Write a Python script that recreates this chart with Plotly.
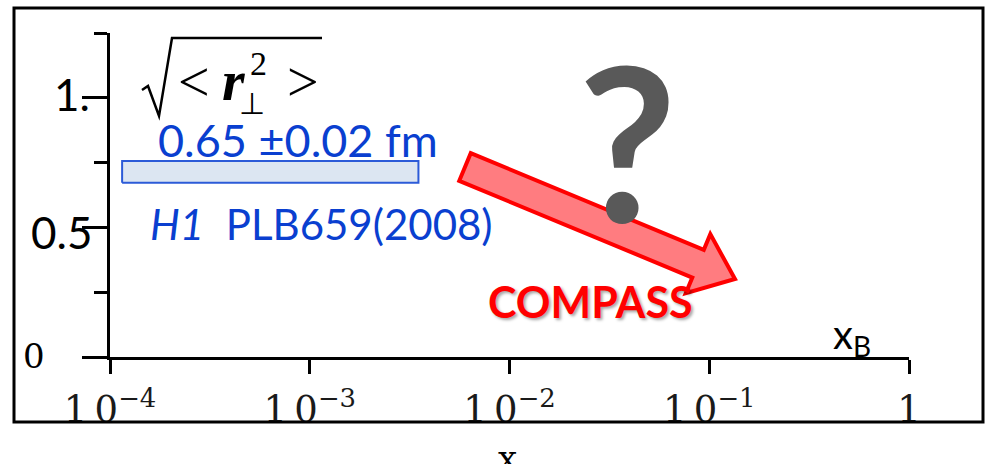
import math
import plotly.graph_objects as go

# ---- data -------------------------------------------------------------
x_tick_vals = [1e-4, 1e-3, 1e-2, 1e-1, 1.0]
x_tick_text = ["1\u20090<sup>\u22124</sup>", "1\u20090<sup>\u22123</sup>",
               "1\u20090<sup>\u22122</sup>", "1\u20090<sup>\u22121</sup>", "1"]
y_label_vals = [0.0, 0.5, 1.0]
y_label_text = ["0", "0.5", "1."]

# H1 measurement band (x extent and band edges on the plotted scale)
band_x = [1.15e-4, 3.5e-3]
band_y = [0.672, 0.756]
band_label = "0.65 \u00b10.02 fm"
ref_label = "<i>H1</i>\u00a0\u00a0PLB659(2008)"

# ---- canvas geometry ----------------------------------------------------
W, H = 989, 464
ML, MR, MT, MB = 110, 80, 33, 107
PW, PH = W - ML - MR, H - MT - MB


def px(x):
    return (x - ML) / PW


def py(y):
    return (H - MB - y) / PH


fig = go.Figure()

fig.add_trace(go.Scatter(
    x=[band_x[0], band_x[1], band_x[1], band_x[0], band_x[0]],
    y=[band_y[0], band_y[0], band_y[1], band_y[1], band_y[0]],
    mode="lines", fill="toself", fillcolor="#dce6f2",
    line=dict(color="#2c5bd8", width=2), hoverinfo="skip", showlegend=False,
))

shapes = []
# outer frame
shapes.append(dict(type="rect", xref="paper", yref="paper",
                   x0=px(14), x1=px(983), y0=py(422), y1=py(8),
                   line=dict(color="black", width=3), fillcolor="rgba(0,0,0,0)"))

# square-root sign with overline
rad = [(142, 90), (148, 86), (159, 116), (172, 38), (322, 38)]
path = "M " + " L ".join(f"{px(a):.5f},{py(b):.5f}" for a, b in rad)
shapes.append(dict(type="path", xref="paper", yref="paper", path=path,
                   line=dict(color="black", width=2.5)))

# trend arrow
sx, sy = 465, 167
tx, ty = 735, 279
L = math.hypot(tx - sx, ty - sy)
ux, uy = (tx - sx) / L, (ty - sy) / L
nx, ny = -uy, ux
hw, hh, hl = 15, 32, 40
bx, by = tx - hl * ux, ty - hl * uy
pts = [
    (sx - hw * nx, sy - hw * ny),
    (bx - hw * nx, by - hw * ny),
    (bx - hh * nx, by - hh * ny),
    (tx, ty),
    (bx + hh * nx, by + hh * ny),
    (bx + hw * nx, by + hw * ny),
    (sx + hw * nx, sy + hw * ny),
]
apath = "M " + " L ".join(f"{px(a):.5f},{py(b):.5f}" for a, b in pts) + " Z"
shapes.append(dict(type="path", xref="paper", yref="paper", path=apath,
                   fillcolor="#ff7c80", line=dict(color="#ff0000", width=4)))

ann = []


def note(text, x, y, size, color="black", family="Lato", xanchor="center",
         yanchor="middle", **kw):
    ann.append(dict(text=text, x=px(x), y=py(y), xref="paper", yref="paper",
                    showarrow=False, xanchor=xanchor, yanchor=yanchor,
                    font=dict(size=size, color=color, family=family, **kw)))


# y tick labels
note(y_label_text[0], 34, 356, 34, family="DejaVu Serif")
note(y_label_text[1], 94, 232, 44, xanchor="right")
note(y_label_text[2], 92, 94, 44, xanchor="right")

# sqrt(<r_perp^2>)
serif = "Liberation Serif"
note("&lt;", 194, 82, 56, family=serif)
note("<b><i>r</i></b>", 233, 80, 58, family=serif)
note("2", 258, 64, 34, family=serif)
note("\u22a5", 252, 104, 30, family=serif)
note("&gt;", 303, 82, 56, family=serif)

# band annotation texts
note(band_label, 156, 140, 45, color="#0a3fd0", xanchor="left")
note(ref_label, 148, 224, 42, color="#0a3fd0", xanchor="left")

# question mark and COMPASS
note("<b>?</b>", 627, 140, 215, color="#595959")
note("<b>COMPASS</b>", 590, 301, 43, color="#ff0000",
     shadow="2px 2px 3px rgba(0,0,0,0.35)")

# axis names
note("x<sub>B</sub>", 852, 336, 40)
note("x", 507, 436, 34, family="DejaVu Serif", yanchor="top")

fig.update_layout(
    width=W, height=H,
    margin=dict(l=ML, r=MR, t=MT, b=MB),
    paper_bgcolor="white", plot_bgcolor="white",
    showlegend=False,
    shapes=shapes, annotations=ann,
    xaxis=dict(type="log", range=[-4, 0], showgrid=False, zeroline=False,
               showline=True, linecolor="black", linewidth=3,
               ticks="outside", ticklen=14, tickwidth=3, tickcolor="black",
               tickvals=x_tick_vals, ticktext=x_tick_text,
               ticklabelstandoff=4,
               tickfont=dict(family="DejaVu Serif", size=37, color="#1a1a1a")),
    yaxis=dict(range=[0, 1.25], showgrid=False, zeroline=False,
               showline=True, linecolor="black", linewidth=3,
               ticks="outside", ticklen=25, tickwidth=3, tickcolor="black",
               tick0=0, dtick=0.5, showticklabels=False,
               minor=dict(ticks="outside", ticklen=13, tickwidth=3,
                          tickcolor="black", tick0=0, dtick=0.25)),
)

fig.write_html("out.html")
